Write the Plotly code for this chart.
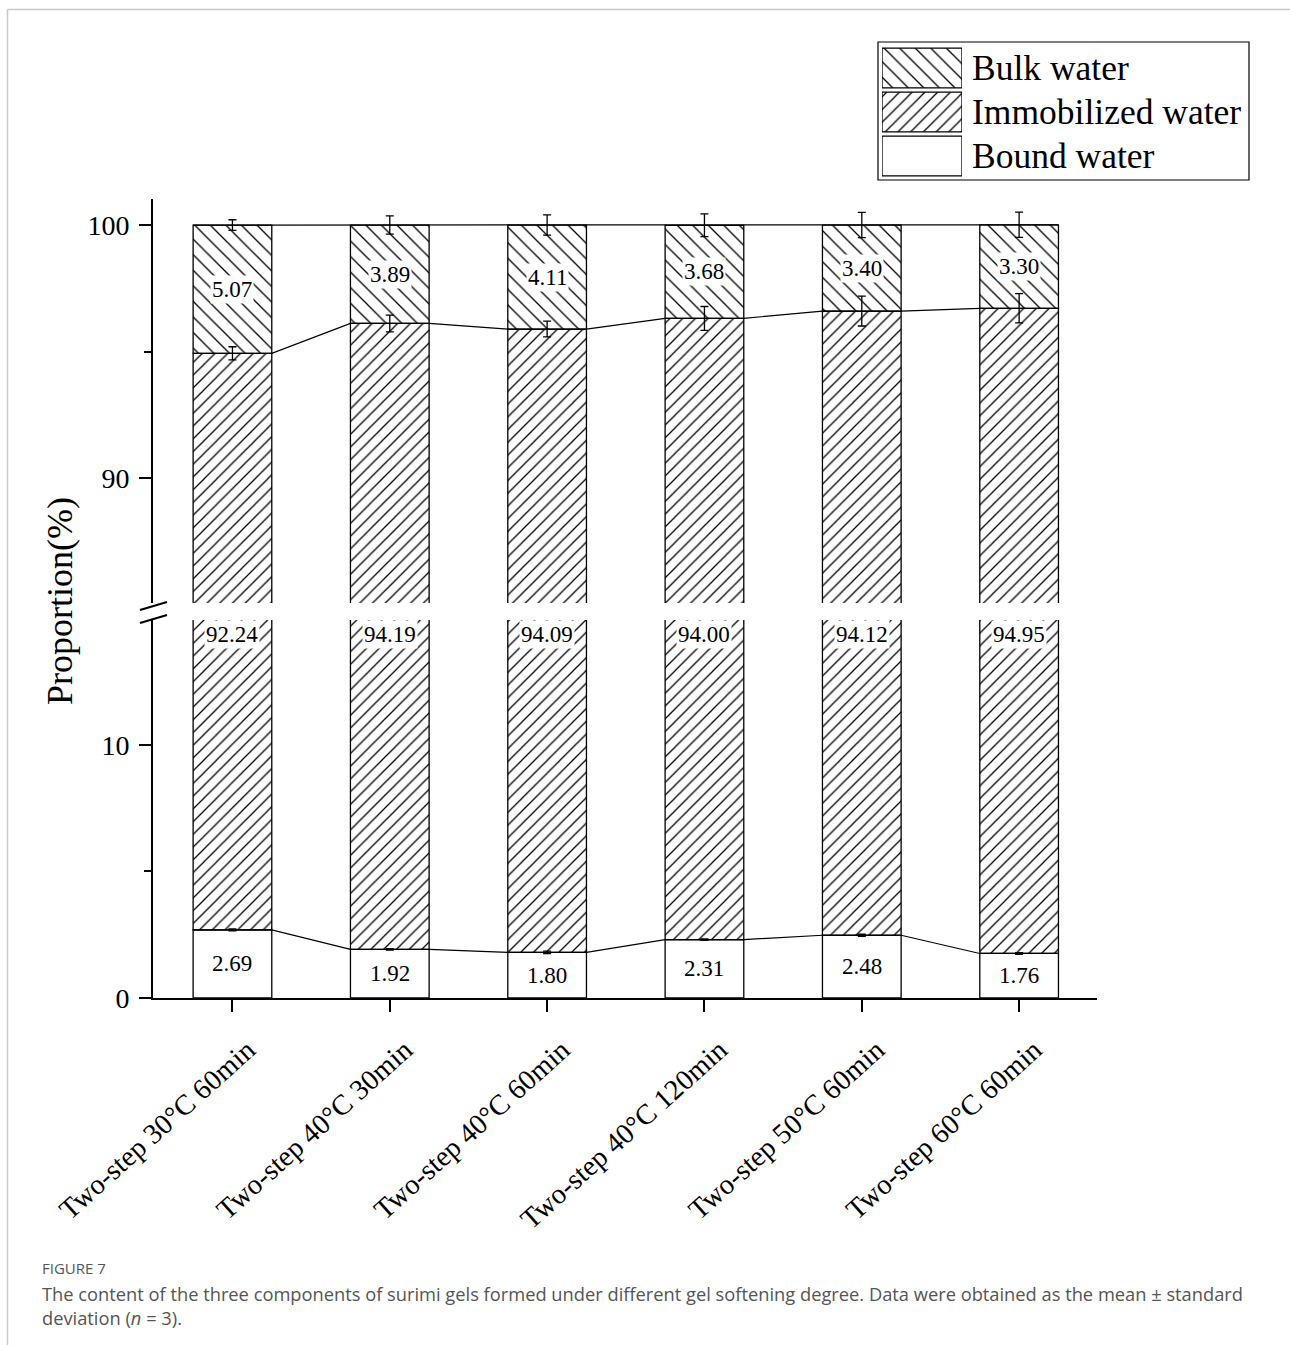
import plotly.graph_objects as go

# ---- data -------------------------------------------------------------
categories = [
    "Two-step 30°C 60min",
    "Two-step 40°C 30min",
    "Two-step 40°C 60min",
    "Two-step 40°C 120min",
    "Two-step 50°C 60min",
    "Two-step 60°C 60min",
]
bound_water = [2.69, 1.92, 1.80, 2.31, 2.48, 1.76]
immobilized_water = [92.24, 94.19, 94.09, 94.00, 94.12, 94.95]
bulk_water = [5.07, 3.89, 4.11, 3.68, 3.40, 3.30]

bound_sd = [0.04, 0.03, 0.05, 0.03, 0.04, 0.03]
immobilized_sd = [0.26, 0.33, 0.31, 0.47, 0.59, 0.58]
bulk_sd = [0.21, 0.36, 0.40, 0.45, 0.50, 0.50]

series_names = ["Bulk water", "Immobilized water", "Bound water"]
y_ticks_low = [0, 10]
y_ticks_high = [90, 100]

# ---- derived stacks -----------------------------------------------------
pos = list(range(len(categories)))
cum_immob = [b + i for b, i in zip(bound_water, immobilized_water)]
total = [c + w for c, w in zip(cum_immob, bulk_water)]

# ---- geometry helpers (pixel -> paper) ----------------------------------
W, H = 1290, 1345
L, R, T, B = 153, 1097, 40, 998


def px_x(px):
    return (px - L) / (R - L)


def px_y(py):
    return (B - py) / (B - T)


SERIF = "Liberation Serif"
BAR_W = 0.5
HALF = BAR_W / 2
OUTLINE = dict(color="black", width=1.3)

PAT_BULK = dict(shape="\\", size=11, solidity=0.12, fgcolor="black",
                bgcolor="white", fillmode="replace")
PAT_IMMOB = dict(shape="/", size=9, solidity=0.14, fgcolor="black",
                 bgcolor="white", fillmode="replace")

fig = go.Figure()

# lower panel (0 - 15): bound water + bottom of immobilized water
fig.add_trace(go.Bar(x=pos, y=bound_water, base=[0] * len(pos), width=BAR_W,
                     marker=dict(color="white", line=OUTLINE), xaxis="x", yaxis="y",
                     showlegend=False))
fig.add_trace(go.Bar(x=pos, y=immobilized_water, base=bound_water, width=BAR_W,
                     marker=dict(color="white", line=OUTLINE, pattern=PAT_IMMOB),
                     xaxis="x", yaxis="y", showlegend=False))

# upper panel (85 - 101): top of immobilized water + bulk water
fig.add_trace(go.Bar(x=pos, y=immobilized_water, base=bound_water, width=BAR_W,
                     marker=dict(color="white", line=OUTLINE, pattern=PAT_IMMOB),
                     xaxis="x", yaxis="y2", showlegend=False))
fig.add_trace(go.Bar(x=pos, y=bulk_water, base=cum_immob, width=BAR_W,
                     marker=dict(color="white", line=OUTLINE, pattern=PAT_BULK),
                     xaxis="x", yaxis="y2", showlegend=False))


# connecting lines from bar edge to bar edge
def edge_line(values):
    xs, ys = [], []
    for p, v in zip(pos, values):
        xs += [p - HALF, p + HALF]
        ys += [v, v]
    return xs, ys


for vals, ax in [(bound_water, "y"), (cum_immob, "y2"), (total, "y2")]:
    xs, ys = edge_line(vals)
    fig.add_trace(go.Scatter(x=xs, y=ys, mode="lines", xaxis="x", yaxis=ax,
                             line=dict(color="black", width=1.2),
                             showlegend=False, hoverinfo="skip"))

# error bars (mean ± SD)
for vals, sd, ax in [(bound_water, bound_sd, "y"),
                     (cum_immob, immobilized_sd, "y2"),
                     (total, bulk_sd, "y2")]:
    fig.add_trace(go.Scatter(x=pos, y=vals, mode="markers", xaxis="x", yaxis=ax,
                             marker=dict(size=2, color="rgba(0,0,0,0)"),
                             error_y=dict(type="data", array=sd, visible=True,
                                          color="black", thickness=1.3, width=4),
                             showlegend=False, hoverinfo="skip"))

# value labels
IMMOB_LABEL_Y = 14.35
annotations = []
for p, b, c, w in zip(pos, bound_water, cum_immob, bulk_water):
    annotations.append(dict(x=p, y=b / 2, xref="x", yref="y", text=f"{b:.2f}",
                            showarrow=False, font=dict(family=SERIF, size=23, color="black")))
    annotations.append(dict(x=p, y=c + w / 2, xref="x", yref="y2", text=f"{w:.2f}",
                            showarrow=False, bgcolor="white", borderpad=1,
                            font=dict(family=SERIF, size=23, color="black")))
for p, i in zip(pos, immobilized_water):
    annotations.append(dict(x=p, y=IMMOB_LABEL_Y, xref="x", yref="y", text=f"{i:.2f}",
                            showarrow=False, bgcolor="white", borderpad=1,
                            font=dict(family=SERIF, size=23, color="black")))

# y-axis title spanning both panels
annotations.append(dict(x=px_x(60), y=px_y(601), xref="paper", yref="paper",
                        xanchor="center", yanchor="middle",
                        text="Proportion(%)", textangle=-90, showarrow=False,
                        font=dict(family=SERIF, size=36, color="black")))

# legend: hatched swatches drawn on a small helper axis
legend_patterns = [PAT_BULK, PAT_IMMOB, None]
legend_rows = [2, 1, 0]
for name, pat, row in zip(series_names, legend_patterns, legend_rows):
    mk = dict(color="white", line=OUTLINE)
    if pat is not None:
        mk["pattern"] = pat
    fig.add_trace(go.Bar(x=[1], y=[row], base=[0], orientation="h", width=0.9,
                         marker=mk, xaxis="x3", yaxis="y3",
                         showlegend=False, hoverinfo="skip"))
legend_centers = [68, 112, 156]
for name, cy in zip(series_names, legend_centers):
    annotations.append(dict(x=px_x(970), y=px_y(cy), xref="paper", yref="paper",
                            text=name, showarrow=False, xanchor="left", yanchor="middle",
                            font=dict(family=SERIF, size=35.5, color="black")))

# caption
CAP = "Open Sans"
annotations.append(dict(x=px_x(40), y=px_y(1268), xref="paper", yref="paper",
                        text="FIGURE 7", showarrow=False, xanchor="left", yanchor="middle",
                        font=dict(family=CAP, size=15, color="#555555")))
annotations.append(dict(x=px_x(40), y=px_y(1293), xref="paper", yref="paper",
                        text="The content of the three components of surimi gels formed under different gel "
                             "softening degree. Data were obtained as the mean ± standard",
                        showarrow=False, xanchor="left", yanchor="middle",
                        font=dict(family=CAP, size=18.3, color="#555555")))
annotations.append(dict(x=px_x(40), y=px_y(1317), xref="paper", yref="paper",
                        text="deviation (<i>n</i> = 3).",
                        showarrow=False, xanchor="left", yanchor="middle",
                        font=dict(family=CAP, size=18.3, color="#555555")))

shapes = [
    # page frame
    dict(type="line", xref="paper", yref="paper", x0=px_x(7.5), x1=px_x(1292),
         y0=px_y(9.5), y1=px_y(9.5), line=dict(color="#c8c8c8", width=1.5)),
    dict(type="line", xref="paper", yref="paper", x0=px_x(7.5), x1=px_x(7.5),
         y0=px_y(9.5), y1=px_y(1347), line=dict(color="#c8c8c8", width=1.5)),
    # axis break marks
    dict(type="line", xref="paper", yref="paper", x0=px_x(140), x1=px_x(167),
         y0=px_y(610), y1=px_y(602), line=dict(color="black", width=2)),
    dict(type="line", xref="paper", yref="paper", x0=px_x(140), x1=px_x(167),
         y0=px_y(623), y1=px_y(615), line=dict(color="black", width=2)),
    # legend frame
    dict(type="rect", xref="paper", yref="paper", x0=px_x(878), x1=px_x(1249),
         y0=px_y(180), y1=px_y(42), line=dict(color="black", width=1.2)),
]

axis_font = dict(family=SERIF, size=28, color="black")
xtick_font = dict(family=SERIF, size=28.5, color="black")
fig.update_layout(
    width=W, height=H,
    margin=dict(l=L, r=W - R, t=T, b=H - B, pad=0),
    paper_bgcolor="white", plot_bgcolor="white",
    barmode="overlay", showlegend=False,
    annotations=annotations, shapes=shapes,
    xaxis=dict(domain=[0, 1], range=[-0.505, 5.495], anchor="y",
               tickmode="array", tickvals=pos, ticktext=categories,
               tickangle=-42, tickfont=xtick_font,
               ticklabelstandoff=10, ticklabelshift=15,
               ticks="outside", ticklen=12, tickwidth=2, tickcolor="black",
               showline=True, linewidth=2, linecolor="black",
               showgrid=False, zeroline=False),
    yaxis=dict(domain=[0, px_y(620)], range=[0, 14.94], anchor="x",
               tickmode="array", tickvals=y_ticks_low, tickfont=axis_font,
               ticklabelstandoff=4,
               ticks="outside", ticklen=12, tickwidth=2, tickcolor="black",
               minor=dict(tickmode="array", tickvals=[5], ticks="outside",
                          ticklen=7, tickwidth=2, tickcolor="black"),
               showline=True, linewidth=2, linecolor="black",
               showgrid=False, zeroline=False),
    yaxis2=dict(domain=[px_y(603), px_y(199)], range=[85.06, 101.03], anchor="x",
                tickmode="array", tickvals=y_ticks_high, tickfont=axis_font,
                ticklabelstandoff=4,
                ticks="outside", ticklen=12, tickwidth=2, tickcolor="black",
                minor=dict(tickmode="array", tickvals=[95], ticks="outside",
                           ticklen=7, tickwidth=2, tickcolor="black"),
                showline=True, linewidth=2, linecolor="black",
                showgrid=False, zeroline=False),
    xaxis3=dict(domain=[px_x(882), px_x(962)], range=[0, 1], anchor="y3",
                visible=False, fixedrange=True),
    yaxis3=dict(domain=[px_y(178), px_y(46)], range=[-0.5, 2.5], anchor="x3",
                visible=False, fixedrange=True),
)

fig.write_html("out.html")
